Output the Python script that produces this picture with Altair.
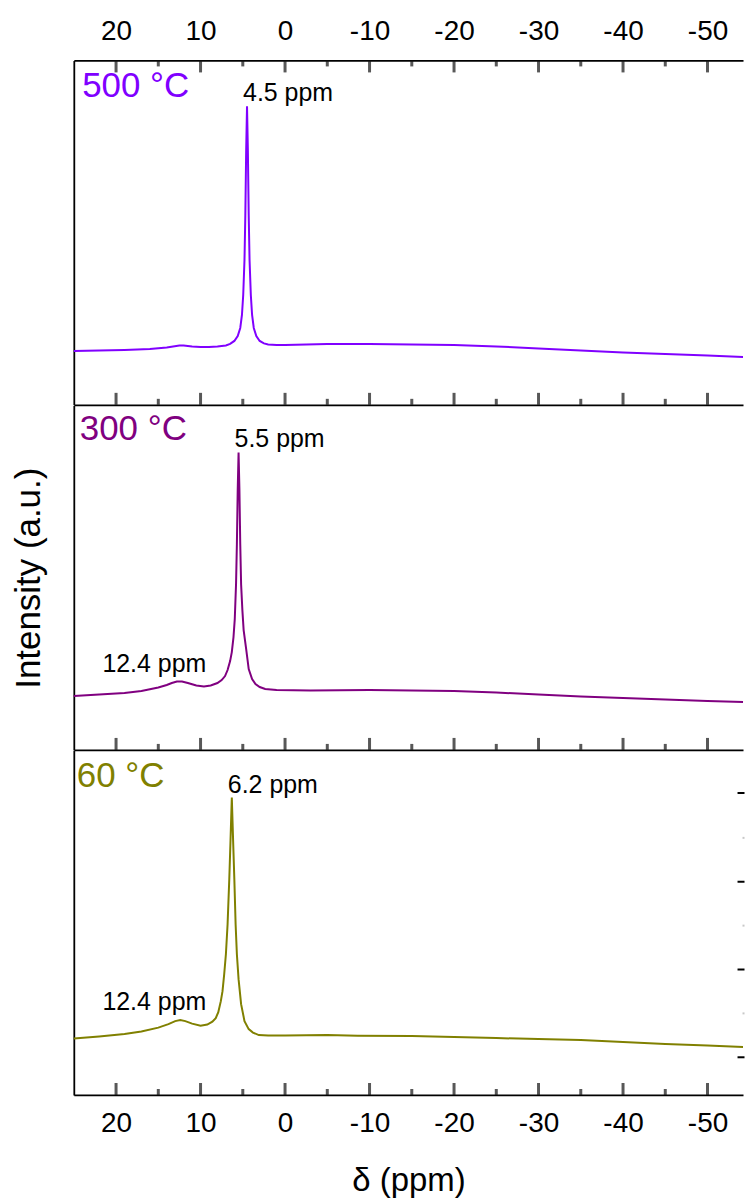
import altair as alt
import pandas as pd

FONT = "Liberation Sans"

# ---- data (ppm, intensity in a.u.) ----
ppm_500 = [25, 22, 19, 16, 14, 12.5, 12, 11, 10, 9, 8, 7, 6.5, 6.0, 5.6, 5.3, 5.1, 4.95, 4.8, 4.7,
           4.6, 4.5, 4.4, 4.3, 4.2, 4.05, 3.9, 3.7, 3.4, 3.0, 2.5, 2.0, 1, 0, -5, -10, -15, -20, -25,
           -30, -35, -40, -45, -50, -54.2]
int_500 = [54, 54.5, 55, 56, 57.5, 59.5, 59.5, 58.5, 58, 58, 58.5, 59.5, 61, 64, 69, 77, 90, 110, 145, 190,
           255, 299, 255, 190, 145, 110, 90, 77, 69, 64, 61.5, 60.5, 60, 60, 61, 61, 60.5, 60, 58.5,
           56.5, 54.5, 52.5, 51, 49.5, 48]

ppm_300 = [25, 22, 19, 17, 15, 14, 13.4, 12.8, 12.2, 11.5, 10.5, 9.6, 8.8, 8.0, 7.5, 7.1, 6.8, 6.5, 6.3,
           6.1, 5.95, 5.8, 5.7, 5.6, 5.5, 5.4, 5.3, 5.2, 5.05, 4.9, 4.6, 4.3, 3.9, 3.5, 3.0, 2.35, 1, -3,
           -10, -20, -25, -30, -35, -40, -45, -50, -54.2]
int_300 = [54, 55.5, 57, 59, 62.5, 65, 67, 68.5, 68.5, 67, 64.5, 63.5, 64.5, 67, 70, 74, 80, 89, 98,
           113, 131, 166, 206, 261, 298, 261, 206, 166, 140, 120, 101, 81, 71, 66, 63, 61, 60, 59.5,
           60, 59, 57.5, 55.5, 53.5, 52, 50.5, 49, 48]

ppm_60 = [25, 22, 19, 17, 15, 13.8, 13, 12.4, 11.8, 11, 10, 9.2, 8.6, 8.2, 7.9, 7.6, 7.4, 7.2, 7.0, 6.8,
          6.6, 6.45, 6.3, 6.15, 6.0, 5.85, 5.7, 5.5, 5.2, 4.8, 4.3, 3.8, 3.1, 2, 0, -5, -8.6, -15, -20,
          -25, -30, -35, -40, -45, -50, -54.2]
int_60 = [56.5, 58.5, 61, 63.5, 67.5, 71, 74, 75, 74, 71.5, 69.3, 70.5, 73.5, 77, 83, 94, 104, 121, 141, 171,
          216, 256, 298, 256, 216, 171, 141, 116, 91, 74, 66, 62.5, 60, 59.5, 59.5, 60, 59.3, 59, 58,
          57, 56, 55, 53, 51, 49.5, 48]

samples = ["500 °C", "300 °C", "60 °C"]
colors = ["#8000FF", "#800080", "#808000"]

peak_ppm = [4.5, 5.5, 6.3]
peak_int = [299, 298, 298]
peak_text = ["4.5 ppm", "5.5 ppm", "6.2 ppm"]

bump_ppm = [12.4, 12.4]
bump_int = [68.5, 75]
bump_text = ["12.4 ppm", "12.4 ppm"]

major_ticks = [20, 10, 0, -10, -20, -30, -40, -50]
minor_ticks = [15, 5, -5, -15, -25, -35, -45]
right_major = [38, 126, 214, 303]
right_minor = [82, 170, 258]

x_domain = [25, -54.2]
y_domain = [0, 345]

# ---- chart ----
xscale = alt.Scale(domain=x_domain, nice=False, zero=False)
yscale = alt.Scale(domain=y_domain, nice=False, zero=False)
W, H = 671, 345.3
MAJ, MIN = 12, 6


def edge_axis(orient, labels=False, title=""):
    """Axis carrying the frame line (and labels / title when wanted)."""
    kw = dict(orient=orient, values=major_ticks, ticks=False, domain=True, domainWidth=1.8,
              domainColor="black", labels=labels, grid=False, title=title)
    if labels:
        kw.update(labelFontSize=28, labelPadding=15, labelFlush=False,
                  labelExpr="'' + datum.value", labelColor="black", labelFont=FONT)
    if title:
        kw.update(titleFontSize=33, titlePadding=27, titleFont=FONT, titleColor="black",
                  titleFontWeight="normal")
    return alt.Axis(**kw)


def tick_layer(values, length, at_top, key):
    """Inward frame ticks, placed along x by the panel's x scale."""
    field = f"tick_{key}"
    df = pd.DataFrame({field: values})
    yc = length / 2 if at_top else H - length / 2
    return alt.Chart(df).mark_tick(color="#111111", thickness=3, size=length, orient="vertical").encode(
        x=alt.X(f"{field}:Q", scale=xscale, axis=None), y=alt.value(yc))


def panel(i, ppm, inten, sx, sy, top=False, bottom=False, middle=False):
    df = pd.DataFrame({"ppm": ppm, "I": inten})
    base = alt.Chart(df)
    yax = alt.Axis(domain=True, domainWidth=1.8, domainColor="black", ticks=False, labels=False,
                   grid=False, title="Intensity (a.u.)" if middle else "", titleFontSize=35,
                   titlePadding=27, titleFont=FONT, titleColor="black", titleFontWeight="normal")
    hidden_y = alt.Y("I:Q", scale=yscale, axis=None)
    layers = []
    layers.append(base.mark_line(color=colors[i], strokeWidth=2).encode(
        x=alt.X("ppm:Q", scale=xscale,
                axis=edge_axis("bottom", labels=bottom, title="δ (ppm)" if bottom else "")),
        y=alt.Y("I:Q", scale=yscale, axis=yax)))
    if top:
        layers.append(base.mark_line(opacity=0).encode(
            x=alt.X("ppm:Q", scale=xscale, axis=edge_axis("top", labels=True)), y=hidden_y))
    if bottom:
        layers.append(base.mark_line(opacity=0).encode(
            x=alt.X("ppm:Q", scale=xscale, axis=None),
            y=alt.Y("I:Q", scale=yscale,
                    axis=alt.Axis(orient="right", values=right_major, tickSize=7, offset=-6,
                                  tickWidth=2, tickColor="black", labels=False, domain=False,
                                  grid=False, title=""))))
        layers.append(base.mark_line(opacity=0).encode(
            x=alt.X("ppm:Q", scale=xscale, axis=None),
            y=alt.Y("I:Q", scale=yscale,
                    axis=alt.Axis(orient="right", values=right_minor, tickSize=2, offset=-1,
                                  tickWidth=2, tickColor="#c8c8c8", labels=False, domain=False,
                                  grid=False, title=""))))
    # sample label
    layers.append(alt.Chart(pd.DataFrame({"t": [samples[i]]})).mark_text(
        align="left", baseline="alphabetic", fontSize=35, font=FONT, color=colors[i]).encode(
        x=alt.value(sx), y=alt.value(sy), text="t:N"))
    # main peak label
    pk = pd.DataFrame({"ppm": [peak_ppm[i]], "I": [peak_int[i]], "t": [peak_text[i]]})
    layers.append(alt.Chart(pk).mark_text(
        align="left", baseline="alphabetic", dx=-4, dy=-5, fontSize=25, font=FONT, color="black").encode(
        x=alt.X("ppm:Q", scale=xscale, axis=None), y=hidden_y, text="t:N"))
    if i > 0:
        bp = pd.DataFrame({"ppm": [bump_ppm[i - 1]], "I": [bump_int[i - 1]], "t": [bump_text[i - 1]]})
        layers.append(alt.Chart(bp).mark_text(
            align="center", baseline="alphabetic", dx=-26, dy=-10, fontSize=25, font=FONT,
            color="black").encode(
            x=alt.X("ppm:Q", scale=xscale, axis=None), y=hidden_y, text="t:N"))
    # inward ticks (drawn last, on top)
    layers.append(tick_layer(major_ticks, MAJ, False, f"{i}bM"))
    layers.append(tick_layer(minor_ticks, MIN, False, f"{i}bm"))
    if top:
        layers.append(tick_layer(major_ticks, MAJ, True, f"{i}tM"))
        layers.append(tick_layer(minor_ticks, MIN, True, f"{i}tm"))
    return alt.layer(*layers).resolve_axis(x="independent", y="independent").properties(width=W, height=H)


p1 = panel(0, ppm_500, int_500, 8.4, 37, top=True)
p2 = panel(1, ppm_300, int_300, 6, 35, middle=True)
p3 = panel(2, ppm_60, int_60, 3, 36, bottom=True)

chart = alt.vconcat(p1, p2, p3, spacing=0, bounds="flush").properties(
    padding={"left": 12, "top": 16, "right": 0, "bottom": 0}
).configure_view(strokeOpacity=0).configure_axis(grid=False)

chart.save("out.html", embed_options={"renderer": "svg", "actions": False})
